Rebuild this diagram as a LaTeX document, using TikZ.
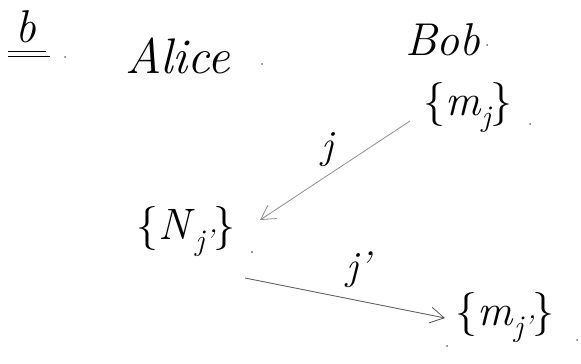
\documentclass[tikz,border=0pt]{standalone}
\usetikzlibrary{arrows.meta}
\newcommand{\lowsub}[1]{\raisebox{-0.25em}{\fontsize{30}{32}\selectfont\itshape #1}}
\begin{document}
\begin{tikzpicture}[x=1pt,y=-1pt,
  hand/.style={inner sep=0pt, text=black, font=\fontsize{46}{50}\selectfont\itshape},
  lbl/.style={inner sep=0pt, text=black, font=\fontsize{44}{48}\selectfont},
  jlbl/.style={inner sep=0pt, text=black, font=\fontsize{40}{44}\selectfont\itshape},
  msg/.style={draw=black!45, line width=0.8pt, -{Straight Barb[length=14pt,width=16pt]}},
  dot/.style={circle, fill=black!60, inner sep=0pt, minimum size=2pt}]
\useasboundingbox (0,0) rectangle (581,364);
% heading
\node[hand] (b) at (26,27) {b};
\draw[line width=0.9pt] (8,51) -- (46,51) (8,56) -- (50,56);
\node[dot] (d0) at (65,57) {};
% participants
\node[hand, font=\fontsize{50}{54}\selectfont\itshape] (alice) at (178,56) {Alice};
\node[dot] (d1) at (262,64) {};
\node[hand] (bob) at (443,40) {Bob};
\node[dot] (d2) at (487,45) {};
% sets
\node[lbl] (mb) at (468,108) {\{\textit{m}\lowsub{j}\}};
\node[dot] (d3) at (530,124) {};
\node[lbl] (na) at (186,232) {\{\textit{N}\lowsub{j'}\}};
\node[dot] (d4) at (252,252) {};
\node[lbl] (mb2) at (505,318) {\{\textit{m}\lowsub{j'}\}};
\node[dot] (d5) at (577,340) {};
\node[dot] (d6) at (447,346) {};
% connector ends
\coordinate (s1) at (410,121);
\coordinate (e1) at (260,220);
\coordinate (s2) at (245,278);
\coordinate (e2) at (445,318);
\draw[msg] (s1) -- (e1);
\draw[msg, draw=black!65] (s2) -- (e2);
% labels
\node[jlbl] (j1) at (327,150) {j};
\node[jlbl] (j2) at (358,270) {j'};
\end{tikzpicture}
\end{document}
